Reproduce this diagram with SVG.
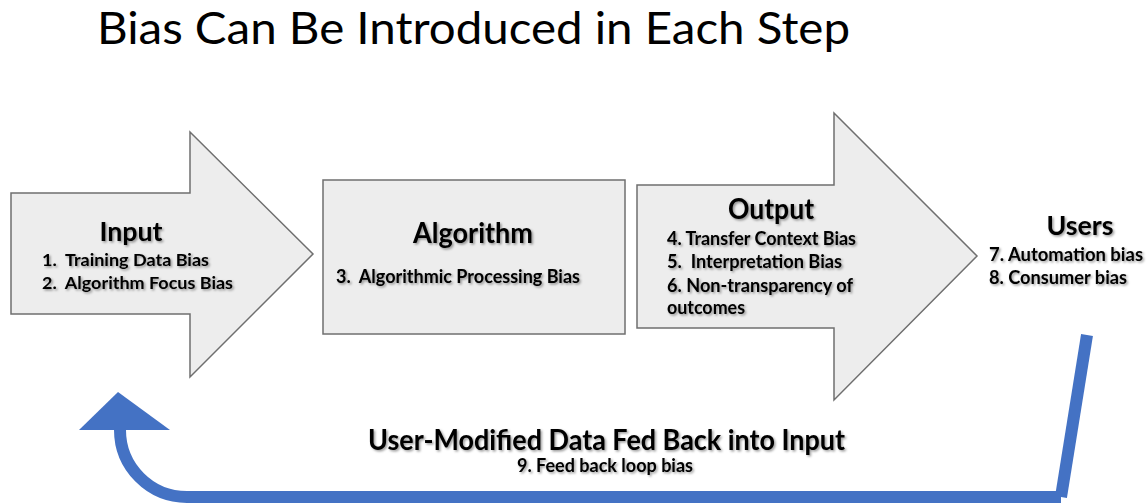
<svg xmlns="http://www.w3.org/2000/svg" width="1147" height="504" viewBox="0 0 1147 504">
  <defs>
    <filter id="sh" x="-10%" y="-30%" width="120%" height="160%">
      <feDropShadow dx="1.5" dy="1.5" stdDeviation="0.9" flood-color="#000" flood-opacity="0.4"/>
    </filter>
  </defs>
  <style>
    .shape { fill: #ededed; stroke: #6f6f6f; stroke-width: 1.5; }
    .title { font-family: Lato, "Liberation Sans", sans-serif; font-weight: 400; fill: #000; }
    .lbl { font-family: Lato, "Liberation Sans", sans-serif; font-weight: 700; fill: #000; filter: url(#sh); }
    .blue { stroke: #4472c4; stroke-width: 12; fill: none; }
  </style>
  <rect width="1147" height="504" fill="#fff"/>

  <text class="title" x="97" y="44" font-size="44" textLength="753" lengthAdjust="spacingAndGlyphs">Bias Can Be Introduced in Each Step</text>

  <g id="input">
    <polygon class="shape" points="11,193 190,193 190,132 313,254 190,377 190,314 11,314"/>
    <text class="lbl" x="131" y="241" font-size="26" text-anchor="middle" textLength="63" lengthAdjust="spacingAndGlyphs">Input</text>
    <text class="lbl" x="42" y="266" font-size="17" textLength="167" lengthAdjust="spacingAndGlyphs" xml:space="preserve">1.  Training Data Bias</text>
    <text class="lbl" x="42" y="289" font-size="17" textLength="191" lengthAdjust="spacingAndGlyphs" xml:space="preserve">2.  Algorithm Focus Bias</text>
  </g>

  <g id="algorithm">
    <rect class="shape" x="323" y="180" width="302" height="154"/>
    <text class="lbl" x="473" y="243" font-size="28" text-anchor="middle" textLength="120" lengthAdjust="spacingAndGlyphs">Algorithm</text>
    <text class="lbl" x="336" y="283" font-size="19" textLength="244" lengthAdjust="spacingAndGlyphs" xml:space="preserve">3.  Algorithmic Processing Bias</text>
  </g>

  <g id="output">
    <polygon class="shape" points="637,185 834,185 834,113 977,256 834,400 834,328 637,328"/>
    <text class="lbl" x="771" y="219" font-size="28" text-anchor="middle" textLength="86" lengthAdjust="spacingAndGlyphs">Output</text>
    <text class="lbl" x="667" y="245" font-size="19" textLength="189" lengthAdjust="spacingAndGlyphs">4. Transfer Context Bias</text>
    <text class="lbl" x="667" y="268" font-size="19" textLength="175" lengthAdjust="spacingAndGlyphs" xml:space="preserve">5.  Interpretation Bias</text>
    <text class="lbl" x="667" y="292" font-size="19" textLength="186" lengthAdjust="spacingAndGlyphs">6. Non-transparency of</text>
    <text class="lbl" x="667" y="314" font-size="19" textLength="78" lengthAdjust="spacingAndGlyphs">outcomes</text>
  </g>

  <g id="users">
    <text class="lbl" x="1080" y="235" font-size="26" text-anchor="middle" textLength="67" lengthAdjust="spacingAndGlyphs">Users</text>
    <text class="lbl" x="989" y="261" font-size="19" textLength="154" lengthAdjust="spacingAndGlyphs">7. Automation bias</text>
    <text class="lbl" x="989" y="284" font-size="19" textLength="138" lengthAdjust="spacingAndGlyphs">8. Consumer bias</text>
  </g>

  <g id="connectors">
    <line class="blue" x1="1087" y1="335" x2="1061" y2="497"/>
    <path class="blue" d="M1061,497 L187,497 A67,67 0 0 1 120,430"/>
    <polygon fill="#4472c4" points="79,430 118,392 170,430"/>
  </g>

  <g id="feedback-label">
    <text class="lbl" x="368" y="450" font-size="28" textLength="477" lengthAdjust="spacingAndGlyphs">User-Modified Data Fed Back into Input</text>
    <text class="lbl" x="517" y="472" font-size="18" textLength="176" lengthAdjust="spacingAndGlyphs">9. Feed back loop bias</text>
  </g>
</svg>
